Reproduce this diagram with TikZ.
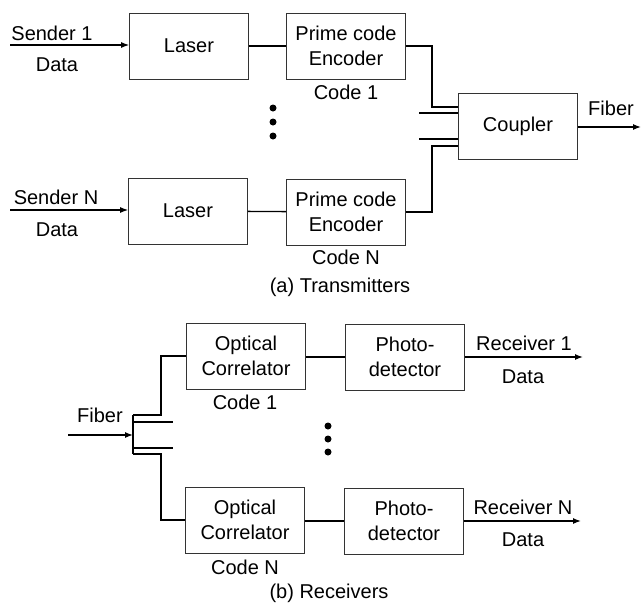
\documentclass[tikz,border=0pt]{standalone}
\usepackage{fontspec}
\setmainfont{Liberation Sans}
\usetikzlibrary{arrows.meta}
\begin{document}
\begin{tikzpicture}[x=1pt,y=-1pt,
  blk/.style={draw=black!80,line width=0.7pt,minimum width=119pt,minimum height=66pt,inner sep=0pt,align=center,font=\fontsize{20}{25}\selectfont},
  lbl/.style={inner sep=0pt,font=\fontsize{20}{25}\selectfont},
  wire/.style={line width=1.3pt},
  sig/.style={line width=1.3pt,-{Latex[length=8pt,width=6pt]}},
  dot/.style={circle,fill=black,inner sep=0pt,minimum size=7pt}]
\useasboundingbox (0,0) rectangle (642,603);

% ---- transmitters ----
\node[blk] (las1) at (189,46) {Laser};
\node[blk] (enc1) at (346,46) {Prime code\\Encoder};
\node[blk] (lasN) at (188,211) {Laser};
\node[blk] (encN) at (346,212) {Prime code\\Encoder};
\node[blk] (cpl) at (518,126) {Coupler};

\coordinate (snd1) at (10,45);
\coordinate (sndN) at (10,210);
\coordinate (fout) at (641,127);
\coordinate (k1) at (432,107);
\coordinate (k2) at (432,146);
\coordinate (s1) at (419,113);
\coordinate (s2) at (419,139);

\draw[sig] (snd1) -- (snd1 -| las1.west);
\draw[sig] (sndN) -- (sndN -| lasN.west);
\draw[wire] (las1) -- (enc1);
\draw[wire] (lasN) -- (encN);
\draw[wire] (enc1.east) -| (k1) -- (k1 -| cpl.west);
\draw[wire] (encN.east) -| (k2) -- (k2 -| cpl.west);
\draw[wire] (s1) -- (s1 -| cpl.west);
\draw[wire] (s2) -- (s2 -| cpl.west);
\draw[sig] (cpl.east |- fout) -- (fout);

\node[lbl] (tsnd1) at (52,33) {Sender 1};
\node[lbl] (tdat1) at (57,65) {Data};
\node[lbl] (tsndN) at (56,197) {Sender N};
\node[lbl] (tdatN) at (57,230) {Data};
\node[lbl] (tfib1) at (611,108) {Fiber};
\node[lbl] (tc1) at (346,92) {Code 1};
\node[lbl] (tcN) at (346,257) {Code N};
\node[lbl] (capa) at (340,287) {(a) Transmitters};

\node[dot] (d1) at (273,108) {};
\node[dot] (d2) at (273,122) {};
\node[dot] (d3) at (273,136) {};

% ---- receivers ----
\node[blk] (cor1) at (246,356) {Optical\\Correlator};
\node[blk] (ph1) at (405,357) {Photo-\\detector};
\node[blk] (corN) at (245,520) {Optical\\Correlator};
\node[blk] (phN) at (404,521) {Photo-\\detector};

\coordinate (fin) at (68,435);
\coordinate (bt) at (133,415);
\coordinate (bb) at (133,454);
\coordinate (j1) at (161,415);
\coordinate (j2) at (161,454);
\coordinate (r1) at (583,357);
\coordinate (rN) at (581,521);

\draw[sig] (fin) -- (bt |- fin);
\draw[wire] (bt) -- (bb);
\draw[wire] (bt) -- (j1) |- (cor1.west);
\draw[wire] (bb) -- (j2) |- (corN.west);
\draw[wire] (133,422) -- (173,422);
\draw[wire] (133,448) -- (173,448);
\draw[wire] (cor1.east |- ph1.west) -- (ph1.west);
\draw[wire] (corN.east |- phN.west) -- (phN.west);
\draw[sig] (ph1.east) -- (r1);
\draw[sig] (phN.east) -- (rN);

\node[lbl] (tfib2) at (100,415) {Fiber};
\node[lbl] (tc1b) at (245,402) {Code 1};
\node[lbl] (tcNb) at (245,567) {Code N};
\node[lbl] (trc1) at (524,343) {Receiver 1};
\node[lbl] (tdr1) at (523,377) {Data};
\node[lbl] (trcN) at (523,507) {Receiver N};
\node[lbl] (tdrN) at (523,540) {Data};
\node[lbl] (capb) at (329,593) {(b) Receivers};

\node[dot] (e1) at (328,426) {};
\node[dot] (e2) at (328,439) {};
\node[dot] (e3) at (328,452) {};
\end{tikzpicture}
\end{document}
